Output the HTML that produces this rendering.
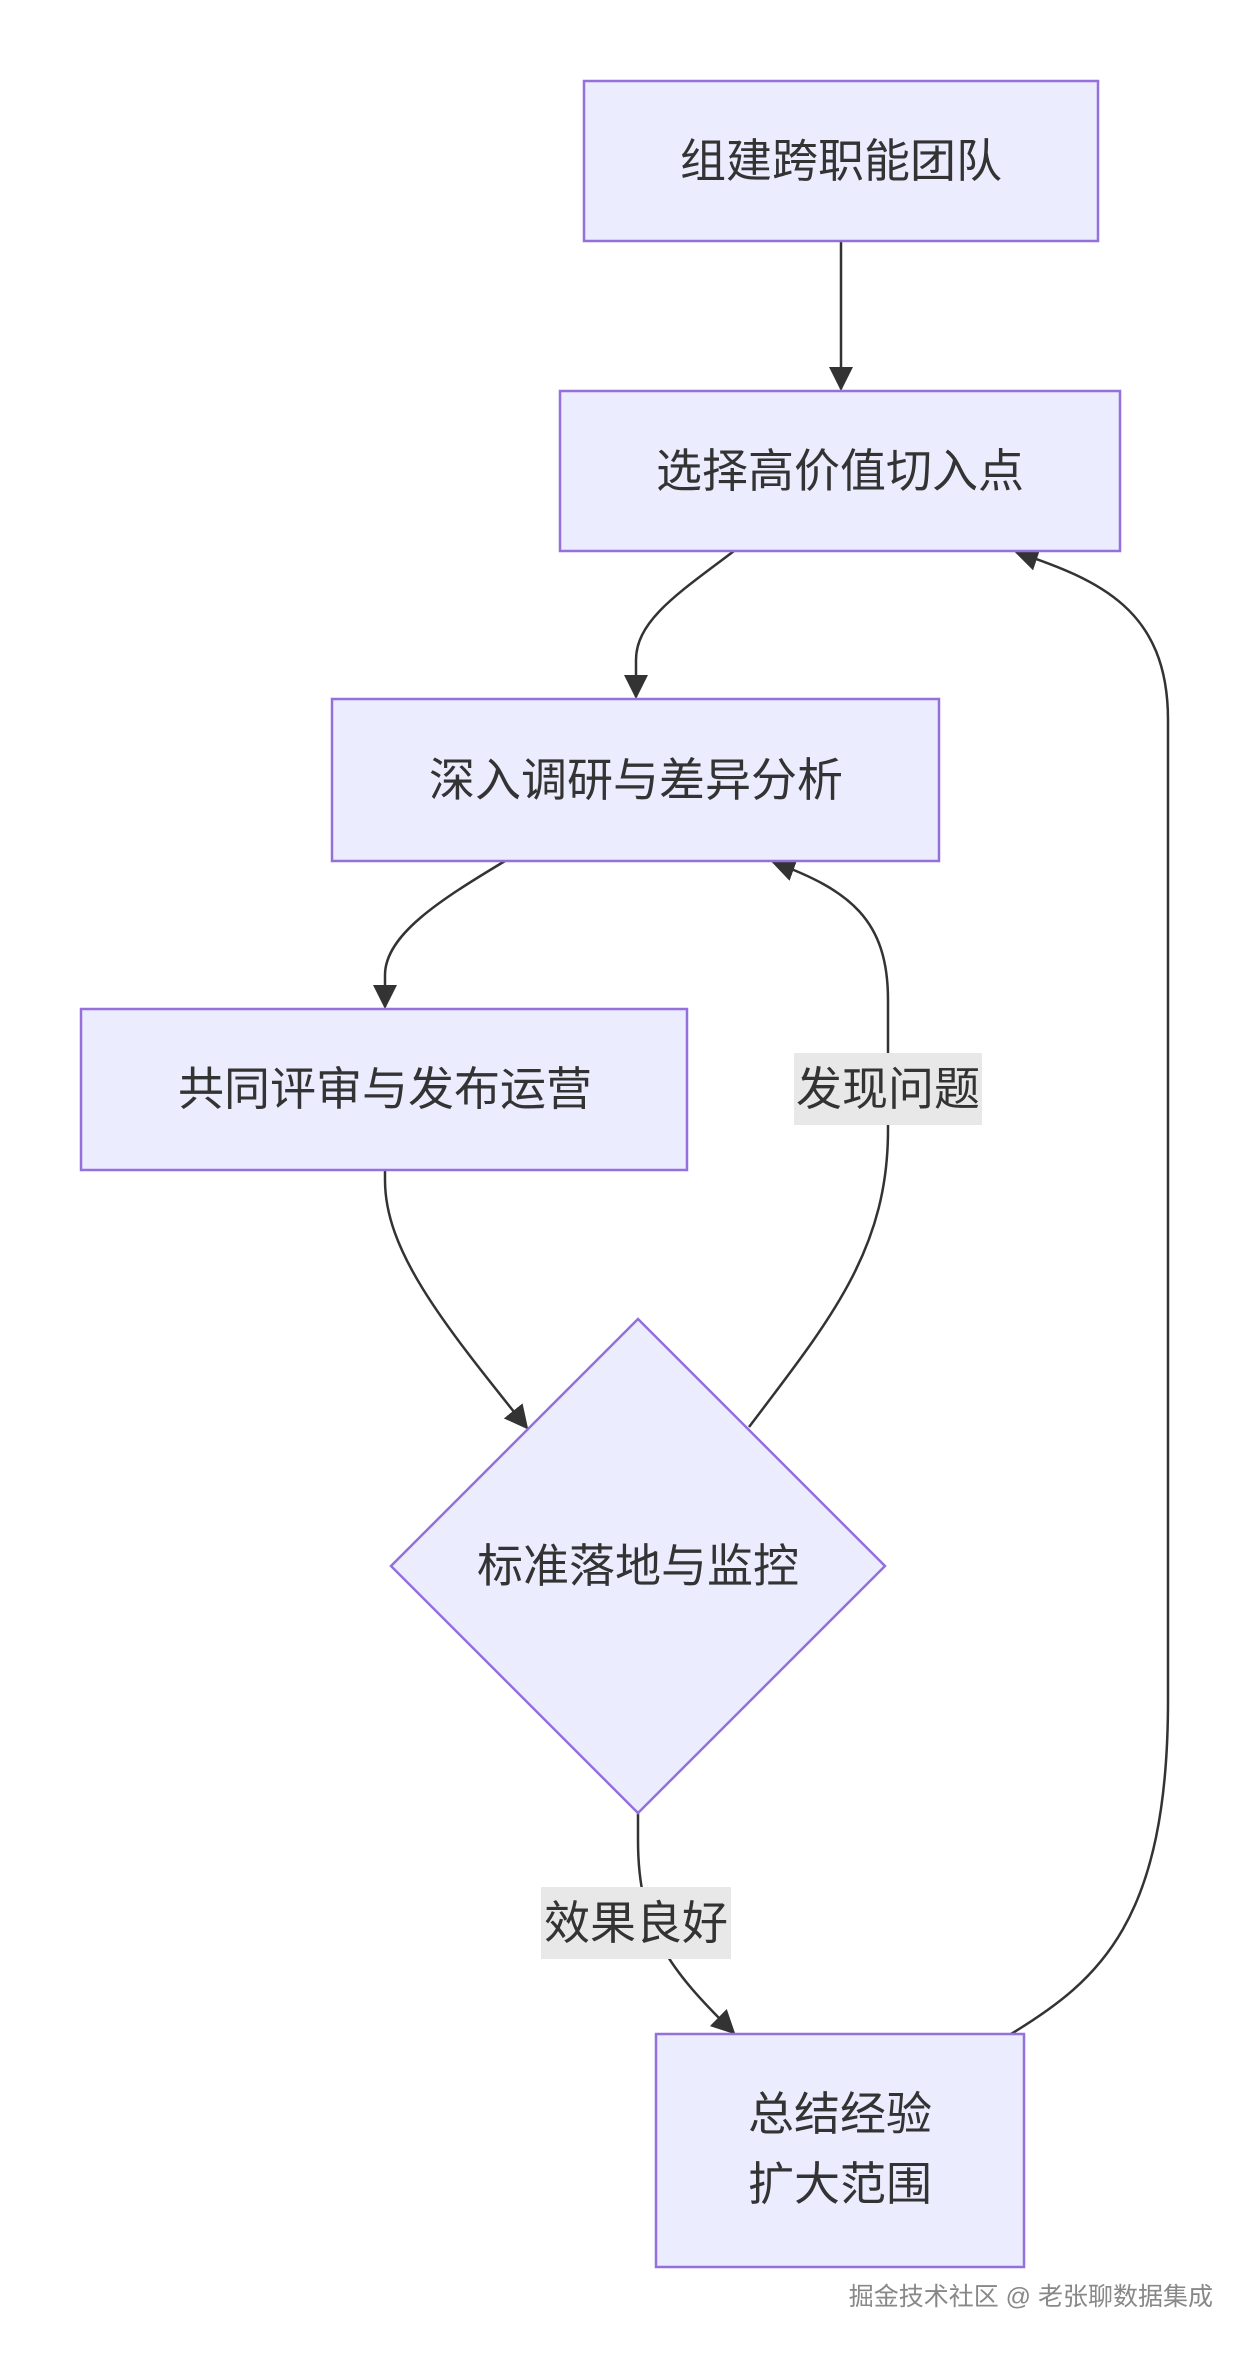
<!DOCTYPE html>
<html><head><meta charset="utf-8"><style>
html,body{margin:0;padding:0;background:#fff;}
svg{display:block;}
text{font-family:"Liberation Sans","Noto Sans CJK SC",sans-serif;fill:#333;}
</style></head><body>
<svg width="1258" height="2364" viewBox="0 0 1258 2364" xmlns="http://www.w3.org/2000/svg">
<defs>
<marker id="m" viewBox="0 0 12 12" refX="11" refY="6" markerWidth="24" markerHeight="24" markerUnits="userSpaceOnUse" orient="auto">
<path d="M0,0 L12,6 L0,12 z" fill="#333"/>
</marker>
</defs>
<g fill="none" stroke="#333" stroke-width="2.5">
<path d="M841,241 L841,389" marker-end="url(#m)"/>
<path d="M734,551 C680,592 636,620 636,660 L636,697" marker-end="url(#m)"/>
<path d="M505,861 C440,900 385,935 385,975 L385,1007" marker-end="url(#m)"/>
<path d="M385,1170 L385,1180 C385,1250 440,1320 527,1428" marker-end="url(#m)"/>
<path d="M749,1427 C830,1320 888,1250 888,1130 L888,1000 C888,920 850,890 773,862" marker-end="url(#m)"/>
<path d="M638,1813 L638,1840 C638,1930 670,1970 734,2033" marker-end="url(#m)"/>
<path d="M1011,2034 C1100,1980 1168,1920 1168,1700 L1168,720 C1168,610 1100,580 1016,552" marker-end="url(#m)"/>
</g>
<g fill="#ECECFF" stroke="#9370DB" stroke-width="2.5">
<rect x="584" y="81" width="514" height="160"/>
<rect x="560" y="391" width="560" height="160"/>
<rect x="332" y="699" width="607" height="162"/>
<rect x="81" y="1009" width="606" height="161"/>
<polygon points="638,1319 885,1566 638,1813 391,1566"/>
<rect x="656" y="2034" width="368" height="233"/>
</g>
<rect x="794" y="1053" width="188" height="72" fill="#e8e8e8"/>
<rect x="541" y="1887" width="190" height="72" fill="#e8e8e8"/>
<g font-size="46" text-anchor="middle">
<text x="841" y="177">组建跨职能团队</text>
<text x="840" y="487">选择高价值切入点</text>
<text x="636" y="796">深入调研与差异分析</text>
<text x="385" y="1105">共同评审与发布运营</text>
<text x="638" y="1582">标准落地与监控</text>
<text x="888" y="1105">发现问题</text>
<text x="636" y="1939">效果良好</text>
<text x="840" y="2130">总结经验</text>
<text x="840" y="2200">扩大范围</text>
</g>
<text x="1213" y="2305" font-size="25" text-anchor="end" style="fill:#888">掘金技术社区 @ 老张聊数据集成</text>
</svg>
</body></html>
